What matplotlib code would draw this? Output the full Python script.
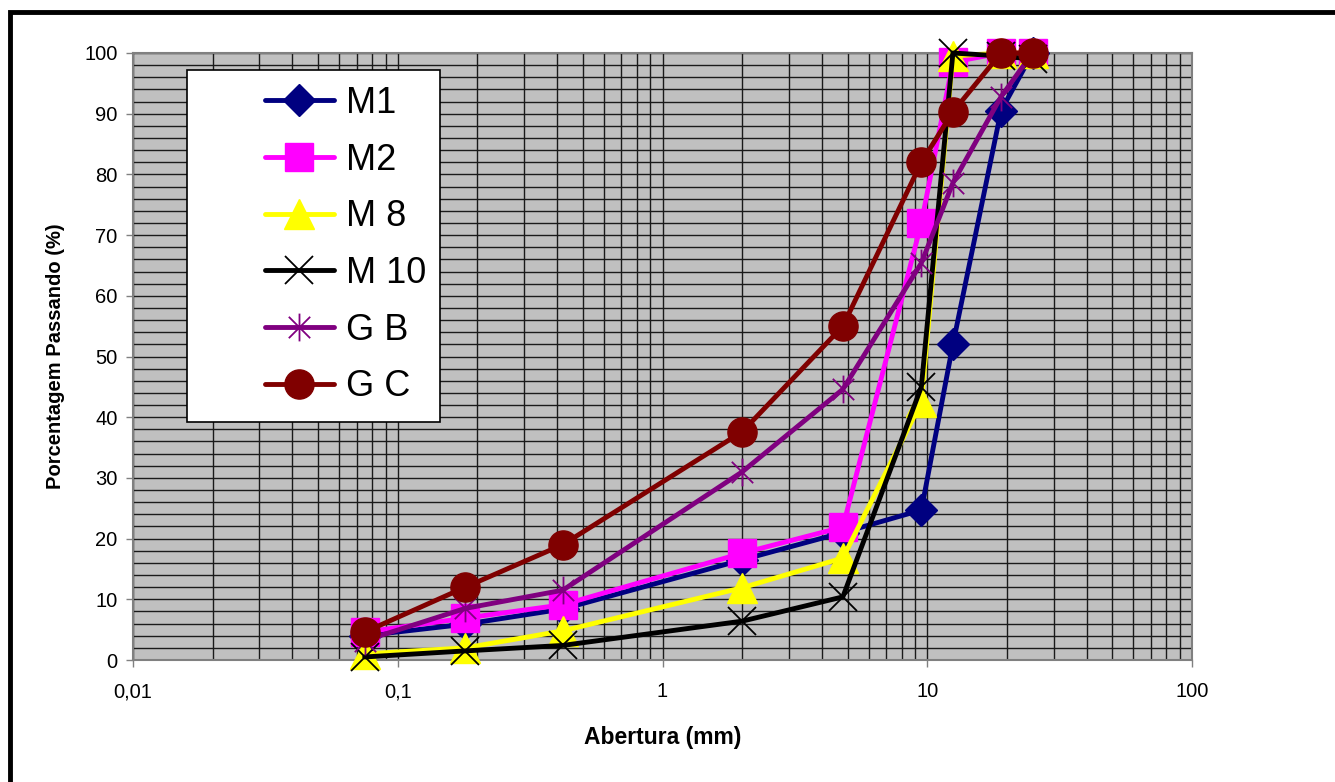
import matplotlib
matplotlib.use("Agg")
import matplotlib.pyplot as plt
from matplotlib.lines import Line2D
from matplotlib.patches import Rectangle
from matplotlib.path import Path
from matplotlib.ticker import FixedLocator, LogLocator, NullFormatter

plt.rcParams['font.family'] = ['Liberation Sans', 'DejaVu Sans']

# sieve openings (mm)
aberturas = [0.075, 0.18, 0.42, 2.0, 4.8, 9.5, 12.5, 19.0, 25.0]

# percent passing for each sample
m1 = [4.0, 5.9, 8.4, 16.5, 21.0, 24.7, 52.0, 90.5, 100.0]
m2 = [4.6, 6.9, 9.1, 17.6, 21.9, 72.0, 98.5, 100.0, 100.0]
m8 = [1.0, 2.0, 4.8, 11.9, 16.8, 42.5, 99.5, 100.0, 100.0]
m10 = [0.5, 1.5, 2.4, 6.4, 10.4, 45.0, 100.0, 99.5, 99.0]
gb = [3.2, 8.5, 11.5, 31.0, 44.6, 65.4, 78.6, 92.8, 100.0]
gc = [4.6, 12.0, 19.0, 37.6, 55.0, 82.0, 90.3, 100.0, 100.0]

series_labels = ['M1', 'M2', 'M 8', 'M 10', 'G B', 'G C']
x_ticks = [0.01, 0.1, 1, 10, 100]
x_tick_labels = ['0,01', '0,1', '1', '10', '100']
y_ticks = list(range(0, 101, 10))

# Excel-style asterisk marker (x plus a vertical bar)
asterisk = Path([(-1, -1), (1, 1), (-1, 1), (1, -1), (0, -1.3), (0, 1.3)],
                [Path.MOVETO, Path.LINETO, Path.MOVETO, Path.LINETO, Path.MOVETO, Path.LINETO])

styles = [
    dict(color='#000080', marker='D', ms=16, mfc='#000080', mec='#000080', mew=1),
    dict(color='#FF00FF', marker='s', ms=20, mfc='#FF00FF', mec='#FF00FF', mew=1),
    dict(color='#FFFF00', marker='^', ms=22, mfc='#FFFF00', mec='#FFFF00', mew=1),
    dict(color='#000000', marker='x', ms=20, mfc='none', mec='#000000', mew=1.3),
    dict(color='#800080', marker=asterisk, ms=20, mfc='none', mec='#800080', mew=1.3),
    dict(color='#800000', marker='o', ms=21, mfc='#800000', mec='#800000', mew=1),
]

fig = plt.figure(figsize=(13.35, 7.82), dpi=100)
ax = fig.add_axes([133 / 1335, 1 - 660 / 782, (1192 - 133) / 1335, (660 - 53) / 782])
ax.set_facecolor('#C0C0C0')

for vals, st in zip([m1, m2, m8, m10, gb, gc], styles):
    ax.plot(aberturas, vals, lw=3.5, clip_on=False, zorder=3,
            solid_joinstyle='round', solid_capstyle='round', **st)

ax.set_xscale('log')
ax.set_xlim(0.01, 100)
ax.set_ylim(0, 100)

ax.xaxis.set_major_locator(FixedLocator(x_ticks))
ax.set_xticklabels(x_tick_labels)
ax.xaxis.set_minor_locator(LogLocator(base=10, subs=range(2, 10), numticks=20))
ax.xaxis.set_minor_formatter(NullFormatter())
ax.set_yticks(y_ticks)
ax.yaxis.set_minor_locator(FixedLocator(range(0, 101, 2)))

ax.grid(which='both', axis='x', color='#1a1a1a', lw=1.0)
ax.grid(which='both', axis='y', color='#1a1a1a', lw=1.0)
ax.set_axisbelow(True)

ax.tick_params(axis='both', which='major', labelsize=14.5, length=5, width=1, color='#808080')
ax.tick_params(axis='y', which='major', pad=6)
ax.tick_params(axis='x', which='major', pad=11)
ax.tick_params(which='minor', length=0)
for sp in ax.spines.values():
    sp.set_color('#808080')
    sp.set_linewidth(1.5)

ax.set_xlabel('Abertura (mm)', fontsize=16.5, fontweight='bold', labelpad=18)
ax.set_ylabel('Porcentagem Passando (%)', fontsize=14.5, fontweight='bold', labelpad=14)

# legend box drawn as in the spreadsheet (wide left margin)
ax.add_patch(Rectangle(((187 - 133) / 1059, (660 - 422) / 607), (440 - 187) / 1059,
                       (422 - 70) / 607, transform=ax.transAxes, facecolor='white',
                       edgecolor='black', lw=1.2, zorder=6, clip_on=False))
handles = [Line2D([0], [0], lw=3.5, solid_capstyle='round', **st) for st in styles]
ax.legend(handles, series_labels, loc='upper left', bbox_to_anchor=((265 - 133) / 1059, (660 - 86) / 607),
          frameon=False, fontsize=26, handlelength=1.9, handletextpad=0.35, labelspacing=0.6,
          borderpad=0, borderaxespad=0).set_zorder(7)

# outer frame (top and left edges)
fig.add_artist(Line2D([10 / 1335, 10 / 1335, 1], [0, 1 - 12 / 782, 1 - 12 / 782],
                      transform=fig.transFigure, color='black', lw=3.5,
                      solid_joinstyle='miter'))

fig.savefig('out.png', dpi=100)
